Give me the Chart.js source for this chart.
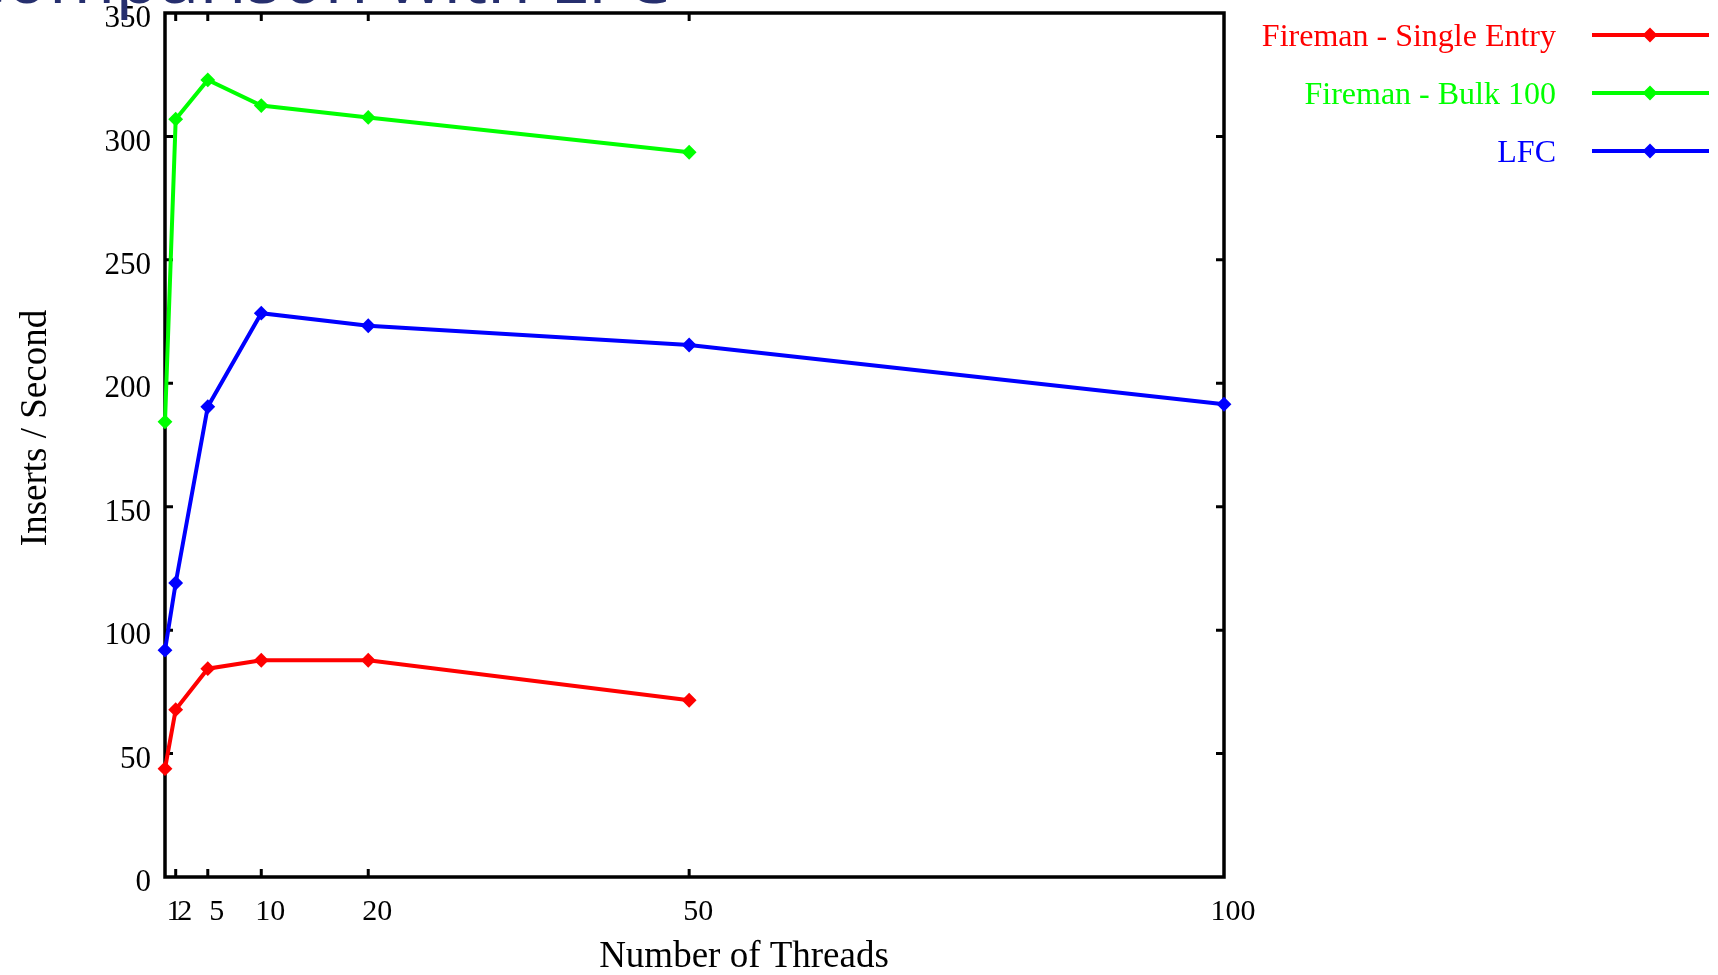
<!DOCTYPE html>
<html>
<head>
<meta charset="utf-8">
<script src="https://cdn.jsdelivr.net/npm/chart.js@4/dist/chart.umd.min.js"></script>
<style>
html,body{margin:0;padding:0;background:#fff;overflow:hidden;}
#wrap{position:relative;width:1718px;height:975px;overflow:hidden;background:#fff;}
#slideTitle{position:absolute;left:-40px;top:-61px;font-family:"Open Sans",sans-serif;font-size:72px;line-height:72px;color:#262f6e;white-space:nowrap;}
canvas{position:absolute;left:0;top:0;}
</style>
</head>
<body>
<div id="wrap">
<canvas id="c" width="1718" height="975"></canvas>
<div id="slideTitle">Comparison with LFC</div>
</div>
<script>
// ---- data ----
const threads = [1, 2, 5, 10, 20, 50, 100];
const xTickValues = [1, 2, 5, 10, 20, 50, 100];
const yTickStep = 50;
const yMin = 0;
const yMax = 350;
const seriesNames = ['Fireman - Single Entry', 'Fireman - Bulk 100', 'LFC'];
const singleEntry = [43.9, 67.8, 84.4, 87.8, 87.8, 71.6];
const bulk100 = [184.4, 307.0, 322.9, 312.5, 307.7, 293.6];
const lfc = [91.9, 119.1, 190.5, 228.4, 223.3, 215.5, 191.5];
const seriesColors = ['#ff0000', '#00ff00', '#0000ff'];
const xTitle = 'Number of Threads';
const yTitle = 'Inserts / Second';

const SERIF = '"Liberation Serif", "Times New Roman", serif';

function toPoints(values) {
  return values.map((v, i) => ({ x: threads[i], y: v }));
}

const seriesValues = [singleEntry, bulk100, lfc];
const datasets = seriesValues.map((vals, i) => ({
  label: seriesNames[i],
  data: toPoints(vals),
  borderColor: seriesColors[i],
  backgroundColor: seriesColors[i],
  pointBackgroundColor: seriesColors[i],
  pointBorderColor: seriesColors[i],
  borderWidth: 4,
  pointStyle: 'rectRot',
  pointRadius: 6,
  pointBorderWidth: 2,
  tension: 0,
  clip: false
}));

const framePlugin = {
  id: 'frame',
  beforeDatasetsDraw(chart) {
    const { ctx, chartArea: a, scales } = chart;
    ctx.save();
    ctx.strokeStyle = '#000';
    ctx.lineWidth = 3.5;
    ctx.strokeRect(a.left, a.top, a.right - a.left, a.bottom - a.top);
    const tl = 8;
    ctx.lineWidth = 3;
    ctx.beginPath();
    scales.x.ticks.forEach(t => {
      if (t.value <= scales.x.min || t.value >= scales.x.max) return;
      const px = scales.x.getPixelForValue(t.value);
      ctx.moveTo(px, a.bottom); ctx.lineTo(px, a.bottom - tl);
      ctx.moveTo(px, a.top); ctx.lineTo(px, a.top + tl);
    });
    scales.y.ticks.forEach(t => {
      if (t.value <= scales.y.min || t.value >= scales.y.max) return;
      const py = scales.y.getPixelForValue(t.value);
      ctx.moveTo(a.left, py); ctx.lineTo(a.left + tl, py);
      ctx.moveTo(a.right, py); ctx.lineTo(a.right - tl, py);
    });
    ctx.stroke();
    ctx.restore();
  }
};

const titlesPlugin = {
  id: 'axisTitles',
  afterDraw(chart) {
    const { ctx } = chart;
    ctx.save();
    ctx.fillStyle = '#000';
    ctx.font = '37px ' + SERIF;
    ctx.textAlign = 'center';
    ctx.textBaseline = 'alphabetic';
    ctx.fillText(xTitle, 744, 967);
    ctx.translate(46, 428);
    ctx.rotate(-Math.PI / 2);
    ctx.fillText(yTitle, 0, 0);
    ctx.restore();
  }
};

const legendPlugin = {
  id: 'sideLegend',
  afterDraw(chart) {
    const { ctx } = chart;
    ctx.save();
    chart.data.datasets.forEach((ds, i) => {
      const y = 35 + 58 * i;
      ctx.font = '32px ' + SERIF;
      ctx.fillStyle = ds.borderColor;
      ctx.textAlign = 'right';
      ctx.textBaseline = 'alphabetic';
      ctx.fillText(ds.label, 1556, y + 11);
      ctx.strokeStyle = ds.borderColor;
      ctx.lineWidth = 4;
      ctx.beginPath();
      ctx.moveTo(1592, y);
      ctx.lineTo(1709, y);
      ctx.stroke();
      ctx.fillStyle = ds.borderColor;
      ctx.lineWidth = 2;
      Chart.helpers.drawPoint(ctx, { pointStyle: 'rectRot', radius: 6, borderWidth: 2 }, 1650, y);
    });
    ctx.restore();
  }
};

new Chart(document.getElementById('c'), {
  type: 'line',
  data: { datasets },
  options: {
    responsive: false,
    animation: false,
    devicePixelRatio: 1,
    layout: { padding: { top: 13, right: 494, left: 0, bottom: 0 } },
    plugins: { legend: { display: false }, tooltip: { enabled: false } },
    scales: {
      x: {
        type: 'linear',
        position: 'bottom',
        min: threads[0],
        max: threads[threads.length - 1],
        afterBuildTicks: s => { s.ticks = xTickValues.map(v => ({ value: v })); },
        afterFit: s => { s.height = 98; s.paddingLeft = 0; s.paddingRight = 0; },
        grid: { display: false, drawTicks: false },
        border: { display: false },
        ticks: {
          autoSkip: false,
          maxRotation: 0,
          color: '#000',
          font: { family: SERIF, size: 30 },
          padding: 17,
          labelOffset: 9,
          callback: v => String(v)
        }
      },
      y: {
        min: yMin,
        max: yMax,
        afterFit: s => { s.width = 165; s.paddingTop = 0; s.paddingBottom = 0; },
        grid: { display: false, drawTicks: false },
        border: { display: false },
        ticks: {
          stepSize: yTickStep,
          color: '#000',
          font: { family: SERIF, size: 31 },
          padding: 14,
          labelOffset: 6
        }
      }
    }
  },
  plugins: [framePlugin, titlesPlugin, legendPlugin]
});
</script>
</body>
</html>
